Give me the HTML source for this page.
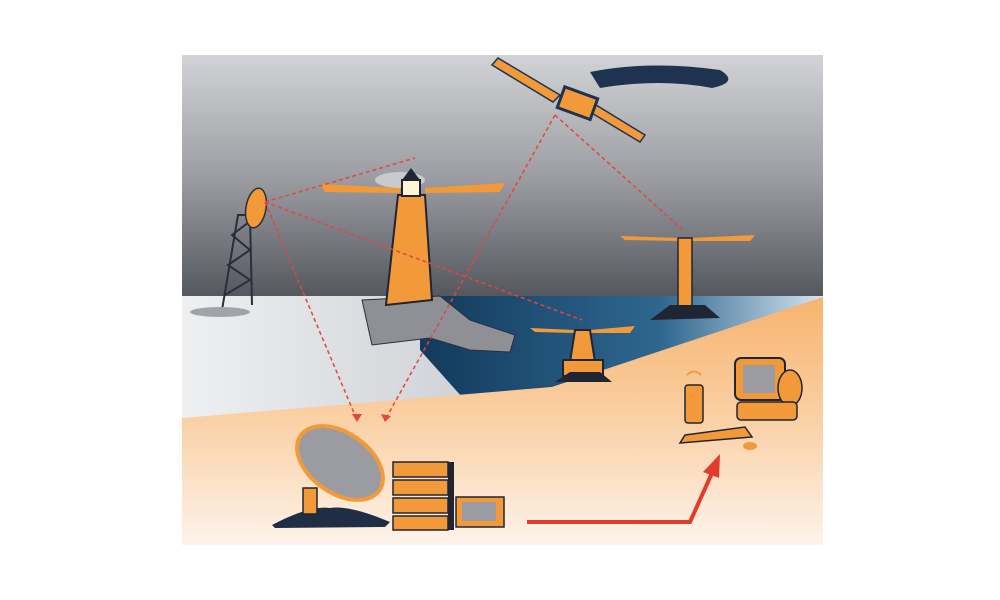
<!DOCTYPE html>
<html><head><meta charset="utf-8"><style>
html,body{margin:0;padding:0;background:#fff;width:1000px;height:600px;overflow:hidden}
</style></head><body>
<svg width="1000" height="600" viewBox="0 0 1000 600" xmlns="http://www.w3.org/2000/svg">
<defs>
<linearGradient id="sky" x1="0" y1="0" x2="0" y2="1"><stop offset="0" stop-color="#d2d3d6"/><stop offset="0.5" stop-color="#9c9ea3"/><stop offset="1" stop-color="#55575f"/></linearGradient>
<linearGradient id="low" x1="0" y1="0" x2="1" y2="0"><stop offset="0" stop-color="#eef0f2"/><stop offset="1" stop-color="#a9adb4"/></linearGradient>
<linearGradient id="sea" x1="0" y1="0" x2="1" y2="0"><stop offset="0" stop-color="#123a5c"/><stop offset="0.6" stop-color="#2f6790"/><stop offset="1" stop-color="#d5e4ee"/></linearGradient>
<linearGradient id="or" x1="0" y1="0" x2="0" y2="1"><stop offset="0" stop-color="#f7b36e"/><stop offset="0.5" stop-color="#fad1a6"/><stop offset="1" stop-color="#fdf3ea"/></linearGradient>
</defs>
<rect x="182" y="55" width="641" height="242" fill="url(#sky)"/>
<rect x="182" y="296" width="641" height="130" fill="url(#low)"/>
<polygon points="420,296 823,296 823,298 552,387 462,397 420,350" fill="url(#sea)"/>
<polygon points="182,418 552,387 823,297 823,545 182,545" fill="url(#or)"/>
<!-- satellite -->
<path d="M590,72 Q650,60 720,70 Q740,82 712,88 Q660,78 600,88 Z" fill="#1f3350"/>
<polygon points="492,65 498,58 560,95 553,102" fill="#f29a3a" stroke="#1f3350" stroke-width="1.5"/>
<polygon points="590,112 596,105 645,135 640,142" fill="#f29a3a" stroke="#1f3350" stroke-width="1.5"/>
<rect x="560" y="92" width="35" height="22" fill="#f29a3a" stroke="#1f3350" stroke-width="3" transform="rotate(20 577 103)"/>
<!-- left tower -->
<g stroke="#2a2e3a" stroke-width="2" fill="none">
<path d="M222,310 L238,215 L250,215 L252,305 M225,295 L250,280 L228,265 L250,250 L232,235 L249,222"/>
</g>
<ellipse cx="220" cy="312" rx="30" ry="5" fill="#a0a3a8"/>
<ellipse cx="256" cy="208" rx="10" ry="20" fill="#f29a3a" stroke="#2a2e3a" stroke-width="1.5" transform="rotate(10 256 208)"/>
<!-- main lighthouse rock -->
<path d="M362,300 L440,296 L470,320 L515,335 L510,352 L470,350 L430,338 L372,345 Z" fill="#8e9096" stroke="#2a2e3a" stroke-width="1"/>
<path d="M320,184 L400,188 L400,193 L325,192 Z M425,188 L505,183 L500,192 L425,193 Z" fill="#f29a3a"/>
<ellipse cx="400" cy="180" rx="25" ry="8" fill="#c9cacd"/>
<polygon points="398,195 425,195 432,300 386,305" fill="#f29a3a" stroke="#1f2533" stroke-width="2"/>
<rect x="402" y="180" width="18" height="16" fill="#fff3d8" stroke="#1f2533" stroke-width="2"/>
<polygon points="402,180 420,180 411,168" fill="#1f2533"/>
<!-- right lighthouse -->
<path d="M620,236 L680,238 L680,241 L625,240 Z M690,238 L755,235 L750,241 L690,241 Z" fill="#f29a3a"/>
<rect x="678" y="238" width="14" height="76" fill="#f29a3a" stroke="#1f2533" stroke-width="1.5"/>
<path d="M650,320 L670,305 L705,305 L720,318 Z" fill="#1f2533"/>
<!-- buoy -->
<path d="M530,328 L575,330 L575,333 L535,332 Z M590,330 L635,326 L630,333 L590,333 Z" fill="#f29a3a"/>
<polygon points="575,330 590,330 595,362 570,362" fill="#f29a3a" stroke="#1f2533" stroke-width="2"/>
<rect x="563" y="360" width="40" height="16" fill="#f29a3a" stroke="#1f2533" stroke-width="2"/>
<path d="M555,382 L570,372 L600,372 L612,382 Z" fill="#1f2533"/>
<!-- dashed lines -->
<g stroke="#e2463e" stroke-width="1.5" stroke-dasharray="4,3" fill="none">
<path d="M265,202 L415,158 M265,202 L582,320 M265,202 L357,420 M555,115 L385,420 M555,115 L685,232"/>
</g>
<path d="M352,414 L357,422 L362,414 Z M381,414 L385,422 L391,416 Z" fill="#e2463e"/>
<!-- ground dish -->
<path d="M272,525 Q310,505 330,508 Q350,505 390,522 L385,527 L275,528 Z" fill="#1f2d45"/>
<rect x="303" y="488" width="14" height="26" fill="#f29a3a" stroke="#1f2533" stroke-width="1.5"/>
<ellipse cx="340" cy="463" rx="48" ry="30" fill="#9a9ca2" stroke="#f29a3a" stroke-width="4" transform="rotate(35 340 463)"/>
<!-- server rack -->
<g fill="#f29a3a" stroke="#1f2533" stroke-width="1.5">
<rect x="393" y="462" width="55" height="15"/><rect x="393" y="480" width="55" height="15"/><rect x="393" y="498" width="55" height="15"/><rect x="393" y="516" width="55" height="14"/>
</g>
<rect x="448" y="462" width="6" height="68" fill="#1f2533"/>
<rect x="456" y="497" width="48" height="30" fill="#f29a3a" stroke="#1f2533" stroke-width="1.5"/>
<rect x="462" y="502" width="34" height="19" fill="#9a9ca2"/>
<!-- arrow -->
<path d="M527,522 L690,522 L712,473" stroke="#e23d2c" stroke-width="4" fill="none"/>
<polygon points="720,454 703,472 719,478" fill="#e23d2c"/>
<!-- right computer -->
<rect x="735" y="358" width="50" height="42" rx="6" fill="#f29a3a" stroke="#1f2533" stroke-width="2"/>
<rect x="743" y="365" width="32" height="28" fill="#9a9ca2"/>
<ellipse cx="790" cy="388" rx="12" ry="18" fill="#f29a3a" stroke="#1f2533" stroke-width="1.5"/>
<rect x="737" y="402" width="60" height="18" rx="4" fill="#f29a3a" stroke="#1f2533" stroke-width="1.5"/>
<rect x="685" y="385" width="18" height="38" rx="3" fill="#f29a3a" stroke="#1f2533" stroke-width="1.5"/>
<path d="M687,375 Q694,368 701,375" stroke="#f29a3a" stroke-width="2" fill="none"/>
<polygon points="685,435 745,427 752,437 680,443" fill="#f29a3a" stroke="#1f2533" stroke-width="1.5"/>
<ellipse cx="750" cy="446" rx="7" ry="4" fill="#f29a3a"/>
</svg>
</body></html>
